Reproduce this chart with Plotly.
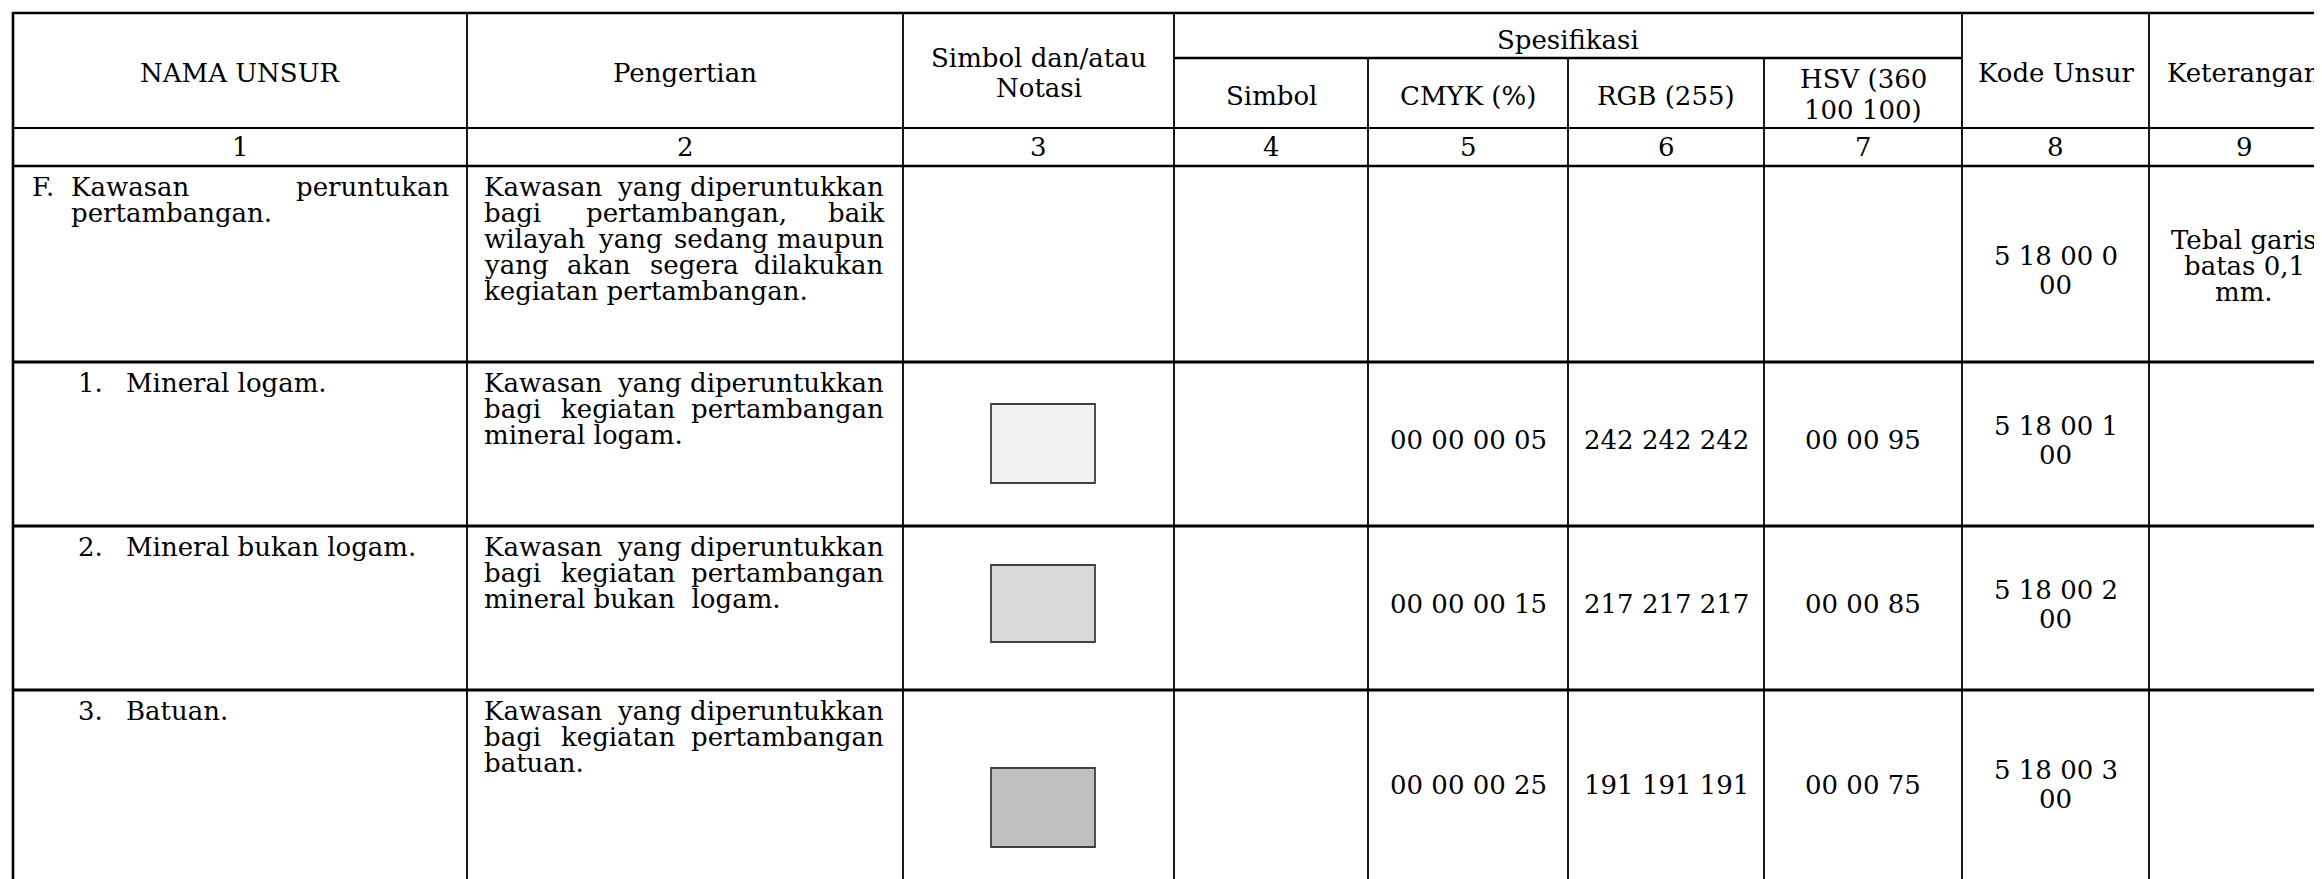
import plotly.graph_objects as go

# table content
headers = ["NAMA UNSUR", "Pengertian", ["Simbol dan/atau", "Notasi"], "Kode Unsur", "Keterangan"]
spec_title = "Spesifikasi"
spec_headers = ["Simbol", "CMYK (%)", "RGB (255)", ["HSV (360", "100 100)"]]
col_numbers = ["1", "2", "3", "4", "5", "6", "7", "8", "9"]

name_marks = ["F.", "1.", "2.", "3."]
name_lines = [["Kawasan peruntukan", "pertambangan."],
              ["Mineral logam."],
              ["Mineral bukan logam."],
              ["Batuan."]]
definitions = [["Kawasan yang diperuntukkan", "bagi pertambangan, baik", "wilayah yang sedang maupun",
                "yang akan segera dilakukan", "kegiatan pertambangan."],
               ["Kawasan yang diperuntukkan", "bagi kegiatan pertambangan", "mineral logam."],
               ["Kawasan yang diperuntukkan", "bagi kegiatan pertambangan", "mineral bukan  logam."],
               ["Kawasan yang diperuntukkan", "bagi kegiatan pertambangan", "batuan."]]
cmyk = ["", "00 00 00 05", "00 00 00 15", "00 00 00 25"]
rgb = ["", "242 242 242", "217 217 217", "191 191 191"]
hsv = ["", "00 00 95", "00 00 85", "00 00 75"]
kode = [["5 18 00 0", "00"], ["5 18 00 1", "00"], ["5 18 00 2", "00"], ["5 18 00 3", "00"]]
keterangan = [["Tebal garis", "batas 0,1", "mm."], [], [], []]

FONT = "DejaVu Serif"
FS = 26
LH = 26

# the page body has an 8px margin, so axes are set so that 1 unit = 1 screen pixel
PAGE_W, PAGE_H, BODY = 2322, 879, 8

# grid geometry (screen pixels)
col_x = [13, 467, 903, 1174, 1368, 1568, 1764, 1962, 2149, 2339]
row_top = [166, 362, 526, 690]
row_bot = [362, 526, 690, 887]

# rough DejaVu Serif advance widths (em) for justifying lines
CW = {'a': .596, 'b': .640, 'c': .560, 'd': .640, 'e': .592, 'f': .370, 'g': .640, 'h': .644,
      'i': .320, 'j': .320, 'k': .610, 'l': .320, 'm': .948, 'n': .644, 'o': .602, 'p': .640,
      'q': .640, 'r': .478, 's': .513, 't': .402, 'u': .644, 'v': .565, 'w': .856, 'x': .564,
      'y': .565, 'z': .527, ',': .318, '.': .318, 'K': .763, 'F': .715, 'M': .950, 'B': .733}

annotations = []
shapes = []


def txt(x, y, s, anchor="center"):
    annotations.append(dict(x=x, y=y, text=s, xref="x", yref="y", showarrow=False,
                            xanchor=anchor, yanchor="middle",
                            font=dict(family=FONT, size=FS, color="black")))


def justify(line, left, right, y):
    words = line.split()
    if len(words) == 1:
        txt(left, y, line, "left")
        return
    widths = [sum(CW.get(c, 0.6) for c in w) * FS for w in words]
    gap = (right - left - sum(widths)) / (len(words) - 1)
    x = left
    for i, w in enumerate(words):
        if i == len(words) - 1:
            txt(right, y, w, "right")
        else:
            txt(x, y, w, "left")
        x += widths[i] + gap


def hline(y, x0, x1, w):
    shapes.append(dict(type="line", xref="x", yref="y", x0=x0, x1=x1, y0=y, y1=y,
                       line=dict(color="black", width=w)))


def vline(x, y0, y1, w):
    shapes.append(dict(type="line", xref="x", yref="y", x0=x, x1=x, y0=y0, y1=y1,
                       line=dict(color="black", width=w)))


# grid lines
hline(13, 12, 2339, 2.6)
hline(58, 1174, 1962, 2.6)
hline(128, 12, 2339, 2.0)
hline(166, 12, 2339, 2.6)
for y in row_bot[:-1]:
    hline(y, 12, 2339, 3.0)
vline(13, 12, 890, 2.6)
for x in col_x[1:-1]:
    vline(x, 58 if x in (1368, 1568, 1764) else 13, 890, 1.8)

centers = [(col_x[i] + col_x[i + 1]) / 2 for i in range(len(col_x) - 1)]

# header
txt(centers[0], 73, headers[0])
txt(centers[1], 73, headers[1])
txt(centers[2], 58, headers[2][0])
txt(centers[2], 88, headers[2][1])
txt((col_x[3] + col_x[7]) / 2, 40, spec_title)
for i, h in enumerate(spec_headers):
    if isinstance(h, list):
        txt(centers[3 + i], 79, h[0])
        txt(centers[3 + i], 110, h[1])
    else:
        txt(centers[3 + i], 96, h)
txt(centers[7], 73, headers[3])
txt(centers[8], 73, headers[4])

for i, n in enumerate(col_numbers):
    txt(centers[i], 147, n)

# body rows
swatch_y = [None, (404, 483), (565, 642), (768, 847)]
for r in range(4):
    top, bot = row_top[r], row_bot[r]
    first = top + 21
    mid = (top + bot) / 2 + (6 if r == 0 else -4)
    # name column
    if r == 0:
        txt(30, first, name_marks[r], "left")
        justify(name_lines[r][0], 69, 451, first)
        txt(69, first + LH, name_lines[r][1], "left")
    else:
        txt(76, first, name_marks[r], "left")
        txt(124, first, name_lines[r][0], "left")
    # definition column
    lines = definitions[r]
    for j, ln in enumerate(lines):
        y = first + j * LH
        if j < len(lines) - 1:
            justify(ln, 482, 886, y)
        else:
            txt(482, y, ln.replace("  ", "\u00a0 "), "left")
    # swatch
    if swatch_y[r]:
        col = "rgb(" + ",".join(rgb[r].split()) + ")"
        y0, y1 = swatch_y[r]
        shapes.append(dict(type="rect", xref="x", yref="y", x0=991, x1=1095, y0=y0, y1=y1,
                           fillcolor=col, line=dict(color="#404040", width=1.8)))
    # values
    if cmyk[r]:
        txt(centers[4], mid, cmyk[r])
        txt(centers[5], mid, rgb[r])
        txt(centers[6], mid, hsv[r])
    kl = kode[r]
    for j, k in enumerate(kl):
        txt(centers[7], mid - (len(kl) - 1) * 29 / 2 + j * 29, k)
    kt = keterangan[r]
    for j, k in enumerate(kt):
        txt(centers[8], 266 - (len(kt) - 1) * LH / 2 + j * LH, k)

fig = go.Figure()
fig.update_layout(
    width=PAGE_W - BODY, height=PAGE_H - BODY,
    margin=dict(l=0, r=0, t=0, b=0),
    paper_bgcolor="white", plot_bgcolor="white",
    xaxis=dict(range=[BODY, PAGE_W], visible=False, fixedrange=True),
    yaxis=dict(range=[PAGE_H, BODY], visible=False, fixedrange=True),
    shapes=shapes, annotations=annotations,
    showlegend=False,
)
fig.write_html("out.html")
